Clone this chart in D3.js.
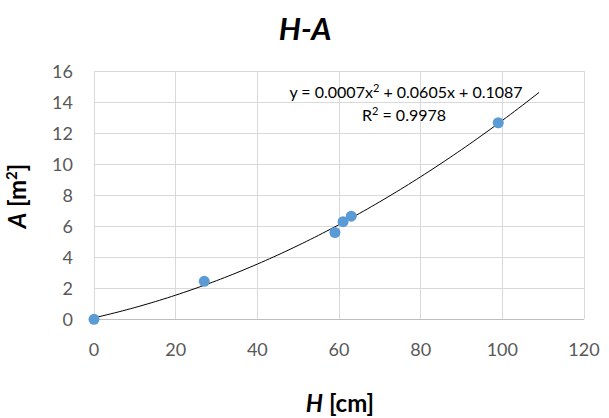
<!DOCTYPE html>
<html><head><meta charset="utf-8">
<script src="https://cdn.jsdelivr.net/npm/d3@7"></script>
<style>body{margin:0;background:#fff;} svg{display:block;font-family:Lato,"Open Sans",sans-serif;}</style>
</head><body>
<svg id="c" width="609" height="418"></svg>
<script>
const H = [0, 27, 59, 61, 63, 99];
const A = [0, 2.45, 5.6, 6.3, 6.65, 12.68];
const xTicks = [0, 20, 40, 60, 80, 100, 120];
const yTicks = [0, 2, 4, 6, 8, 10, 12, 14, 16];
const trendMax = 109;

const svg = d3.select("#c");
const x = d3.scaleLinear().domain([0,120]).range([94,584]);
const y = d3.scaleLinear().domain([0,16]).range([319.3,71.3]);

// gridlines
svg.append("g").selectAll("line").data(yTicks).join("line")
  .attr("x1", x(0)).attr("x2", x(120)).attr("y1", d=>y(d)).attr("y2", d=>y(d))
  .attr("stroke", d=> d===0 ? "#bfbfbf" : "#d9d9d9").attr("stroke-width",1).attr("shape-rendering","crispEdges");
svg.append("g").selectAll("line").data(xTicks).join("line")
  .attr("x1", d=>x(d)).attr("x2", d=>x(d)).attr("y1", y(0)).attr("y2", y(16))
  .attr("stroke", "#d9d9d9").attr("stroke-width",1).attr("shape-rendering","crispEdges");

// tick labels
svg.append("g").selectAll("text").data(yTicks).join("text")
  .attr("x", 73).attr("y", d=>y(d)).attr("dy","0.36em").attr("text-anchor","end")
  .attr("fill","#595959").attr("font-size",18).text(d=>d);
svg.append("g").selectAll("text").data(xTicks).join("text")
  .attr("x", d=>x(d)).attr("y", 356).attr("text-anchor","middle")
  .attr("fill","#595959").attr("font-size",18).text(d=>d);

// least squares quadratic trendline
function fitQuad(xs, ys){
  let S=[0,0,0,0,0], T=[0,0,0];
  xs.forEach((xi,i)=>{ for(let k=0;k<5;k++) S[k]+=Math.pow(xi,k); for(let k=0;k<3;k++) T[k]+=ys[i]*Math.pow(xi,k); });
  const M=[[S[0],S[1],S[2],T[0]],[S[1],S[2],S[3],T[1]],[S[2],S[3],S[4],T[2]]];
  for(let i=0;i<3;i++){ for(let j=i+1;j<3;j++){ const f=M[j][i]/M[i][i]; for(let k=i;k<4;k++) M[j][k]-=f*M[i][k]; } }
  const c=[0,0,0];
  for(let i=2;i>=0;i--){ let s=M[i][3]; for(let k=i+1;k<3;k++) s-=M[i][k]*c[k]; c[i]=s/M[i][i]; }
  return c;
}
const coef = fitQuad(H, A);
const curve = d3.range(0, trendMax+0.01, 1).map(v=>[v, coef[0]+coef[1]*v+coef[2]*v*v]);
svg.append("path").attr("d", d3.line().x(d=>x(d[0])).y(d=>y(d[1]))(curve))
  .attr("fill","none").attr("stroke","#000").attr("stroke-width",1);

// points
svg.append("g").selectAll("circle").data(H.map((h,i)=>[h,A[i]])).join("circle")
  .attr("cx", d=>x(d[0])).attr("cy", d=>y(d[1])).attr("r",5.5).attr("fill","#5b9bd5");

// equation
const eq = svg.append("text").attr("x", 406).attr("y", 98).attr("text-anchor","middle").attr("font-size",16).attr("fill","#000");
eq.append("tspan").text("y = 0.0007x");
eq.append("tspan").attr("font-size",11).attr("dy",-6).text("2");
eq.append("tspan").attr("dy",6).text(" + 0.0605x + 0.1087");
const r2 = svg.append("text").attr("x", 404).attr("y", 121).attr("text-anchor","middle").attr("font-size",16).attr("fill","#000");
r2.append("tspan").text("R");
r2.append("tspan").attr("font-size",11).attr("dy",-6).text("2");
r2.append("tspan").attr("dy",6).text(" = 0.9978");

// title
svg.append("text").attr("x",305).attr("y",40).attr("text-anchor","middle")
  .attr("font-size",31).attr("font-weight","bold").attr("font-style","italic").attr("fill","#000").text("H-A");

// x axis title
const xt = svg.append("text").attr("x",340).attr("y",412).attr("text-anchor","middle").attr("font-size",24).attr("font-weight","bold").attr("fill","#000");
xt.append("tspan").attr("font-style","italic").text("H");
xt.append("tspan").text(" [cm]");

// y axis title
const yt = svg.append("text").attr("transform","translate(26,196) rotate(-90)").attr("text-anchor","middle").attr("font-size",24).attr("font-weight","bold").attr("fill","#000");
yt.append("tspan").attr("font-style","italic").text("A");
yt.append("tspan").text(" [m");
yt.append("tspan").attr("font-size",15).attr("dy",-9).text("2");
yt.append("tspan").attr("dy",9).text("]");
</script>
</body></html>
